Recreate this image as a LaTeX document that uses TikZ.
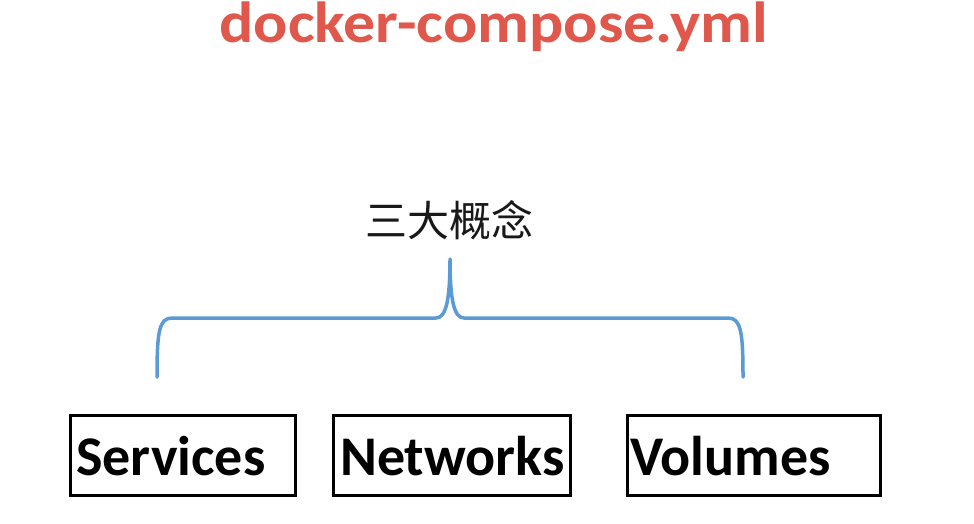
\documentclass[tikz,border=0pt]{standalone}
\usepackage{fontspec}
\setmainfont{Carlito}
\newfontfamily\cjk{Noto Sans CJK SC}
\definecolor{titlered}{HTML}{E0574B}
\definecolor{braceblue}{HTML}{5B9BD5}
\begin{document}
\begin{tikzpicture}[x=1pt,y=-1pt,
  titletext/.style={font=\fontsize{58}{64}\selectfont\bfseries, text=titlered, inner sep=0pt},
  cjktext/.style={font=\cjk\fontsize{42}{47}\selectfont, text=black!90, inner sep=0pt},
  boxnode/.style={draw=black, line width=3pt, minimum height=80pt, inner sep=0pt},
  lbl/.style={font=\fontsize{56}{62}\selectfont\bfseries, text=black, inner sep=0pt, anchor=base west},
  bracepath/.style={draw=braceblue, line width=3.5pt, line cap=round, line join=round}]
\useasboundingbox[fill=white] (0,0) rectangle (974,524);
\node[titletext, anchor=base] (title) at (494,43) {\scalebox{1.1}[1]{docker-compose.yml}};
\node[cjktext] (concept) at (449,220) {三大概念};
\node[boxnode, minimum width=225pt] (svc) at (182.5,455) {};
\node[boxnode, minimum width=237pt] (net) at (451.5,455) {};
\node[boxnode, minimum width=253pt] (vol) at (753.5,455) {};
\node[lbl] (svct) at (76,475) {Services};
\node[lbl] (nett) at (340,475) {Networks};
\node[lbl] (volt) at (630,475) {Volumes};
\coordinate (bl) at (157,377);
\coordinate (br) at (743,377);
\coordinate (tip) at (450,259);
\draw[bracepath] (bl) .. controls (157,332) and (159,318) .. (172,318) -- (436,318)
  .. controls (446,318) and (450,300) .. (tip)
  .. controls (450,300) and (454,318) .. (464,318) -- (728,318)
  .. controls (741,318) and (743,332) .. (br);
\end{tikzpicture}
\end{document}
